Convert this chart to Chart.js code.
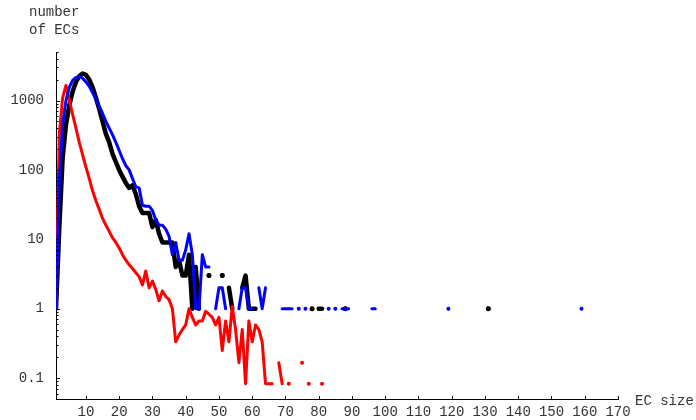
<!DOCTYPE html>
<html>
<head>
  <meta charset="UTF-8" />
  <title>EC size distribution</title>
  <script src="https://cdn.jsdelivr.net/npm/chart.js"></script>
  <style>
    body { margin: 0; background: #fff; }
    canvas { display: block; }
  </style>
</head>
<body>
  <canvas id="grafico" width="696" height="420"></canvas>

  <script>
    // values per EC size, starting at size 1 (null = no EC of that size)
    const blackCounts = [1, 15, 150, 450, 850, 1350, 1850, 2250, 2450, 2350,
      2000, 1550, 1100, 750, 500, 330, 250, 170, 130, 100,
      80, 65, 55, 60, 45, 30, 24, 24, 24, 15,
      19, 12, 9, 9, 9, 9, 4, 5, 3, 3,
      6, 1, 4, 1, null, null, 3, null, null, null,
      3, null, 2, 1, null, null, 2, 3, 1, 1, 1];
    const blackTailSizes = [78, 80, 81, 88, 131];
    const blackTailCounts = [1, 1, 1, 1, 1];

    const blueCounts = [1, 70, 450, 1000, 1550, 1950, 2150, 2200, 2100, 1850,
      1600, 1300, 1050, 820, 650, 500, 400, 320, 250, 190,
      145, 115, 100, 75, 57, 55, 31, 30, 30, 26,
      19, 16, 16, 14, 11, 6, 9, 5, 5, 7,
      12, 6, 1, 1, 6, 4, 4, null, 1, 2,
      2, 1, null, null, null, 1, 2, 2, 1, 1,
      null, 2, 1, 2];
    const blueTailSizes = [69, 70, 71, 72, 74, 76, 83, 85, 87, 88, 89, 96, 97, 119, 159];
    const blueTailCounts = [1, 1, 1, 1, 1, 1, 1, 1, 1, 1, 1, 1, 1, 1, 1];

    const redCounts = [1, 330, 1100, 1650, 1000, 630, 400, 250, 165, 110,
      75, 50, 36, 27, 20, 16, 13, 10.5, 9, 7.5,
      6, 5, 4.3, 3.8, 3.3, 2.9, 2.2, 3.5, 2.0, 2.5,
      1.9, 1.3, 1.8, 1.5, 1.35, 1.0, 0.333, 0.417, 0.5, 0.583,
      1.0, 0.75, 0.583, 0.667, 0.667, 0.917, 0.833, 0.75, 0.583, 0.75,
      0.25, 0.667, 0.333, 1.083, 0.5, 0.167, 0.5, 0.083, 0.667, 0.333,
      0.583, 0.5, 0.333, 0.083, 0.083, 0.083];
    const redTailSizes = [68, 69, 71, 75, 77, 81];
    const redTailCounts = [0.167, 0.083, 0.083, 0.167, 0.083, 0.083];

    const xTicks = [10, 20, 30, 40, 50, 60, 70, 80, 90, 100, 110, 120, 130, 140, 150, 160, 170];
    const yLabels = [0.1, 1, 10, 100, 1000];

    function montarSerie(counts, tailSizes, tailCounts) {
      const pontos = [];
      for (let s = 1; s <= 170; s++) {
        let v = counts[s - 1];
        const k = tailSizes.indexOf(s);
        if (k >= 0) v = tailCounts[k];
        pontos.push({ x: s, y: v === undefined ? null : v });
      }
      return pontos;
    }

    function raioIsolado(r) {
      return (ctx) => {
        const d = ctx.dataset.data;
        const i = ctx.dataIndex;
        if (d[i].y == null) return 0;
        const antes = i > 0 ? d[i - 1].y : null;
        const depois = i < d.length - 1 ? d[i + 1].y : null;
        return (antes == null && depois == null) ? r : 0;
      };
    }

    const fonte = '"Liberation Mono", "Courier New", monospace';

    const marcas = {
      id: 'marcas',
      afterDraw(chart) {
        const { ctx, chartArea: a, scales: { x, y } } = chart;
        ctx.save();
        ctx.strokeStyle = '#000';
        ctx.lineWidth = 1;
        y.ticks.forEach(t => {
          const py = Math.round(y.getPixelForValue(t.value)) + 0.5;
          const len = yLabels.includes(t.value) ? 4 : 2.5;
          ctx.beginPath();
          ctx.moveTo(a.left, py);
          ctx.lineTo(a.left + len, py);
          ctx.stroke();
        });
        x.ticks.forEach(t => {
          const px = Math.round(x.getPixelForValue(t.value)) + 0.5;
          ctx.beginPath();
          ctx.moveTo(px, a.bottom);
          ctx.lineTo(px, a.bottom - 3);
          ctx.stroke();
        });
        ctx.fillStyle = '#333';
        ctx.font = '14px ' + fonte;
        ctx.textBaseline = 'middle';
        ctx.textAlign = 'left';
        ctx.fillText('number', 29, 12);
        ctx.fillText('of ECs', 29, 30);
        ctx.fillText('EC size', 635, 401);
        ctx.restore();
      }
    };

    const minorY = [];
    [0.01, 0.1, 1, 10, 100, 1000].forEach(d => {
      for (let m = 1; m <= 9; m++) {
        const v = +(d * m).toPrecision(3);
        if (v >= 0.05 && v <= 5000) minorY.push(v);
      }
    });

    new Chart(document.getElementById('grafico'), {
      type: 'line',
      data: {
        datasets: [
          {
            label: 'blue', data: montarSerie(blueCounts, blueTailSizes, blueTailCounts),
            borderColor: '#0000ff', backgroundColor: '#0000ff', borderWidth: 3,
            pointRadius: raioIsolado(2), pointBorderWidth: 0
          },
          {
            label: 'red', data: montarSerie(redCounts, redTailSizes, redTailCounts),
            borderColor: '#ff0000', backgroundColor: '#ff0000', borderWidth: 3,
            pointRadius: raioIsolado(2), pointBorderWidth: 0
          },
          {
            label: 'black', data: montarSerie(blackCounts, blackTailSizes, blackTailCounts),
            borderColor: '#000000', backgroundColor: '#000000', borderWidth: 4.5,
            pointRadius: raioIsolado(2.5), pointBorderWidth: 0
          }
        ]
      },
      options: {
        responsive: false,
        animation: false,
        devicePixelRatio: 1,
        spanGaps: false,
        elements: { line: { tension: 0, borderCapStyle: 'round', borderJoinStyle: 'round' } },
        layout: { padding: { left: 0, right: 78, top: 52, bottom: 0 } },
        plugins: { legend: { display: false }, tooltip: { enabled: false } },
        scales: {
          x: {
            type: 'linear', min: 1, max: 170,
            grid: { display: false, drawTicks: false },
            border: { display: true, color: '#000', width: 1 },
            afterBuildTicks: (s) => { s.ticks = xTicks.map(v => ({ value: v })); },
            afterFit: (s) => { s.height = 21; },
            ticks: { autoSkip: false, maxRotation: 0, padding: 5, color: '#333', font: { family: fonte, size: 14 } }
          },
          y: {
            type: 'logarithmic', min: 0.05, max: 5000,
            grid: { display: false, drawTicks: false },
            border: { display: true, color: '#000', width: 1 },
            afterBuildTicks: (s) => { s.ticks = minorY.map(v => ({ value: v })); },
            afterFit: (s) => { s.width = 56; },
            ticks: {
              autoSkip: false, padding: 12, color: '#333', font: { family: fonte, size: 14 },
              callback: (v) => yLabels.includes(v) ? String(v) : ''
            }
          }
        }
      },
      plugins: [marcas]
    });
  </script>
</body>
</html>
